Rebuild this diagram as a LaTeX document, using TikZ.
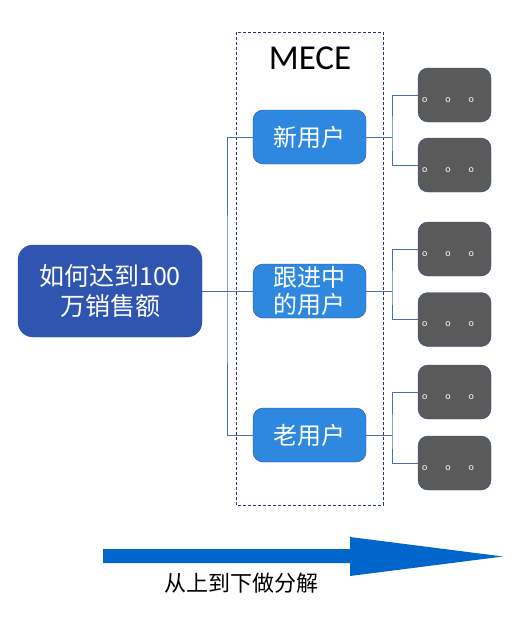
\documentclass[tikz,border=0pt]{standalone}
\usepackage{fontspec}
\setmainfont{Carlito}
\newfontfamily\cjk{Noto Sans CJK SC}
\usetikzlibrary{calc}
\definecolor{rootblue}{HTML}{2F55B0}
\definecolor{midblue}{HTML}{2E88DF}
\definecolor{edgeblue}{HTML}{2F4F98}
\definecolor{leafgray}{HTML}{5A5A5A}
\definecolor{connblue}{HTML}{4470C4}
\definecolor{navy}{HTML}{1F3864}
\definecolor{arrowblue}{HTML}{0066CC}
\tikzset{
  rootbox/.style={draw=edgeblue, fill=rootblue, rounded corners=15pt, minimum width=184pt, minimum height=92pt, inner sep=0pt, text=white, align=center, font=\cjk\fontsize{25}{30}\selectfont},
  midbox/.style={draw=edgeblue, fill=midblue, rounded corners=10pt, minimum width=113pt, minimum height=54pt, inner sep=0pt, text=white, align=center, font=\cjk\fontsize{24}{27}\selectfont},
  leafbox/.style={draw=edgeblue, fill=leafgray, rounded corners=10pt, minimum width=73pt, minimum height=54pt, inner sep=0pt},
  dots/.style={text=white, font=\fontsize{10}{10}\selectfont, inner sep=0pt},
  conn/.style={draw=connblue, line width=1pt},
}
\begin{document}
\begin{tikzpicture}[x=1pt,y=-1pt]
\useasboundingbox (0,0) rectangle (522,618);
% dashed MECE box
\draw[navy, line width=0.9pt, dash pattern=on 3pt off 2pt] (236,32) rectangle (383,505);
\node (mece) at (310,58) {\fontsize{35}{35}\selectfont MECE};
% root and mid nodes
\node[rootbox] (r) at (110,291) {如何达到100\\万销售额};
\node[midbox] (m1) at (309.5,137) {新用户};
\node[midbox] (m2) at (309.5,291) {跟进中\\的用户};
\node[midbox] (m3) at (309.5,435) {老用户};
% leaves
\foreach \n/\y in {1/95,2/165,3/249,4/319.5,5/392,6/463}{
  \node[leafbox] (l\n) at (454.5,\y) {};
  \node[dots] (d\n) at (448,\y+5) {o\hspace{17.9pt}o\hspace{17.9pt}o};
}
% junctions
\coordinate (jl) at (227,291);
\coordinate (jr1) at (392,137);
\coordinate (jr2) at (392,291);
\coordinate (jr3) at (392,435);
% connectors
\draw[conn] (r.east) -- (m2.west);
\draw[conn] (m1.west) -| (jl) |- (m3.west);
\draw[conn] (m1.east) -- (jr1);
\draw[conn] (m2.east) -- (jr2);
\draw[conn] (m3.east) -- (jr3);
\draw[conn] (l1.west) -| (jr1) |- (l2.west);
\draw[conn] (l3.west) -| (jr2) |- (l4.west);
\draw[conn] (l5.west) -| (jr3) |- (l6.west);
% big arrow
\fill[arrowblue] (103,549) -- (350,549) -- (350,537) -- (503,556.5) -- (350,576) -- (350,563) -- (103,563) -- cycle;
\node (lab) at (241,583) {\cjk\fontsize{22}{22}\selectfont 从上到下做分解};
\end{tikzpicture}
\end{document}
